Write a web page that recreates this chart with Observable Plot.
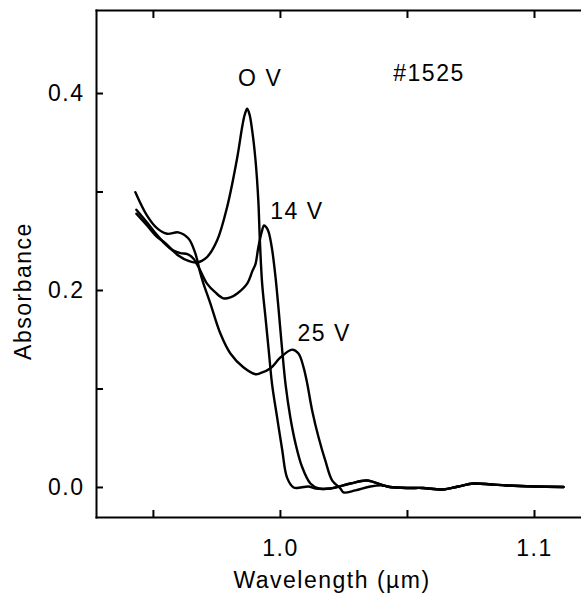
<!DOCTYPE html>
<html><head><meta charset="utf-8">
<script src="https://cdn.jsdelivr.net/npm/d3@7"></script>
<script src="https://cdn.jsdelivr.net/npm/@observablehq/plot@0.6"></script>
<style>
body{margin:0;background:#fff}
#chart svg{font-family:"Liberation Sans",Arial,sans-serif}
#chart svg text{letter-spacing:1.5px}
</style></head><body><div id="chart"></div>
<script>
// Series names (bias voltages)
const series = ["O V", "14 V", "25 V"];
const sampleLabel = ["#1525"];

// 0 V
const wl0 = [0.9433,0.9475,0.9512,0.9547,0.9598,0.9638,0.9669,0.9711,0.9751,0.9790,0.9830,0.9850,0.9860,0.9869,0.9878,0.9889,0.9902,0.9913,0.9919,0.9928,0.9941,0.9954,0.9967,0.9987,1.0007,1.0026,1.0052,1.0080,1.0110,1.0138,1.0197,1.0276,1.0340,1.0405,1.0430,1.0500,1.0560,1.0640,1.0700,1.0760,1.0830,1.0890,1.1000,1.1114];
const abs0 = [0.278,0.266,0.255,0.248,0.2355,0.230,0.2284,0.234,0.251,0.2846,0.335,0.367,0.379,0.3845,0.379,0.362,0.332,0.291,0.251,0.207,0.173,0.139,0.105,0.071,0.038,0.010,0.000,0.000,0.001,-0.001,-0.001,0.004,0.007,0.002,0.0005,-0.0005,-0.0005,-0.002,0.001,0.004,0.003,0.002,0.001,0.0005];

// 14 V
const wl14 = [0.9433,0.9475,0.9512,0.9547,0.9575,0.9606,0.9634,0.9657,0.9681,0.9711,0.9744,0.9776,0.9803,0.9830,0.9869,0.9890,0.9902,0.9913,0.9928,0.9935,0.9945,0.9954,0.9967,0.9980,0.9993,1.0007,1.0020,1.0039,1.0059,1.0085,1.0118,1.0151,1.0197,1.0276,1.0340,1.0405,1.0430,1.0500,1.0560,1.0640,1.0700,1.0760,1.0830,1.0890,1.1000,1.1114];
const abs14 = [0.282,0.269,0.257,0.247,0.241,0.238,0.237,0.2325,0.222,0.207,0.198,0.192,0.193,0.197,0.207,0.220,0.227,0.244,0.261,0.266,0.264,0.259,0.242,0.215,0.180,0.139,0.105,0.071,0.045,0.021,0.004,-0.001,-0.001,0.004,0.007,0.002,0.0005,-0.0005,-0.0005,-0.002,0.001,0.004,0.003,0.002,0.001,0.0005];

// 25 V
const wl25 = [0.9429,0.9475,0.9515,0.9554,0.9598,0.9638,0.9665,0.9685,0.9697,0.9724,0.9764,0.9803,0.9854,0.9902,0.9921,0.9961,1.0000,1.0046,1.0071,1.0091,1.0105,1.0125,1.0150,1.0177,1.0204,1.0236,1.0248,1.0295,1.0354,1.0405,1.0430,1.0500,1.0560,1.0640,1.0700,1.0760,1.0830,1.0890,1.1000,1.1114];
const abs25 = [0.2998,0.276,0.263,0.2576,0.259,0.2528,0.2376,0.2173,0.207,0.187,0.156,0.136,0.122,0.115,0.116,0.121,0.132,0.140,0.136,0.122,0.106,0.078,0.051,0.027,0.007,-0.001,-0.005,-0.003,0.001,0.002,0.0005,-0.0005,-0.0005,-0.002,0.001,0.004,0.003,0.002,0.001,0.0005];

// Axis ticks
const xTicks = [0.95, 1.0, 1.05, 1.1];
const xTickLabels = [1.0, 1.1];
const yTicks = [0.0, 0.1, 0.2, 0.3, 0.4];
const yTickLabels = [0.0, 0.2, 0.4];

const wls = [wl0, wl14, wl25];
const abss = [abs0, abs14, abs25];
const rows = [];
series.forEach((s, i) => wls[i].forEach((w, j) => rows.push({series: s, wl: w, abs: abss[i][j]})));
// exciton peak of each curve (long-wavelength side)
const peaks = series.map(s => d3.greatest(rows.filter(r => r.series === s && r.wl > 0.985), r => r.abs));

const font = '"Liberation Sans",Arial,sans-serif';
const labelOffsets = [[13, -30], [33, -14], [32, -16]];

const plot = Plot.plot({
  width: 581, height: 603,
  marginLeft: 96, marginRight: 0, marginTop: 10, marginBottom: 86,
  style: {fontFamily: font, fontSize: "23px", color: "black", background: "white", overflow: "visible"},
  x: {domain: [0.9276, 1.1185]},
  y: {domain: [-0.0305, 0.4843]},
  marks: [
    Plot.line(rows, {x: "wl", y: "abs", z: "series", stroke: "black", strokeWidth: 2.4, curve: "catmull-rom"}),
    Plot.frame({anchor: "left", strokeWidth: 2}),
    Plot.frame({anchor: "top", strokeWidth: 2}),
    Plot.frame({anchor: "bottom", strokeWidth: 2}),
    Plot.axisX({anchor: "bottom", ticks: xTicks, tickSize: -7, tickFormat: () => "", label: null, strokeWidth: 2}),
    Plot.axisX({anchor: "top", ticks: xTicks, tickSize: -7, tickFormat: () => "", label: null, strokeWidth: 2}),
    Plot.axisY({anchor: "left", ticks: yTicks, tickSize: -7, tickFormat: () => "", label: null, strokeWidth: 2}),
    Plot.axisX({anchor: "bottom", ticks: xTickLabels, tickSize: 0, tickPadding: 22, tickFormat: d3.format(".1f"), label: null, fontSize: 23}),
    Plot.axisY({anchor: "left", ticks: yTickLabels, tickSize: 0, tickPadding: 12, tickFormat: d3.format(".1f"), label: null, fontSize: 23}),
    Plot.text(["Wavelength (µm)"], {frameAnchor: "bottom", text: d => d, textAnchor: "middle", lineAnchor: "middle", dx: -7, dy: 63, fontSize: 23}),
    Plot.text(["Absorbance"], {frameAnchor: "left", text: d => d, textAnchor: "middle", lineAnchor: "middle", rotate: -90, dx: -73, dy: 27, fontSize: 23}),
    Plot.text(sampleLabel, {frameAnchor: "top", text: d => d, textAnchor: "middle", lineAnchor: "middle", dx: 90, dy: 63, fontSize: 23}),
    ...peaks.map((p, i) => Plot.text([p], {x: "wl", y: "abs", text: "series", lineAnchor: "middle", dx: labelOffsets[i][0], dy: labelOffsets[i][1], fontSize: 23}))
  ]
});
document.getElementById("chart").appendChild(plot);
</script></body></html>
